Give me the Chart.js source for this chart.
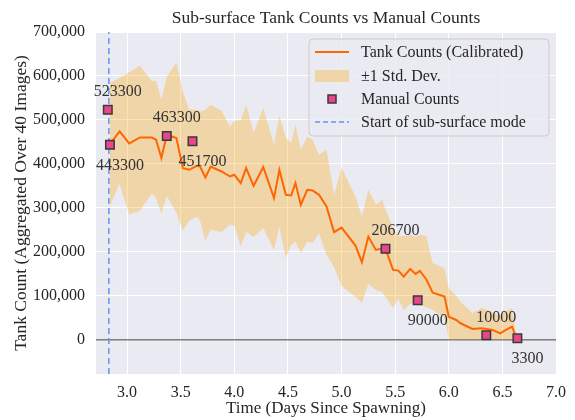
<!DOCTYPE html>
<html>
<head>
<meta charset="utf-8">
<script src="https://cdn.jsdelivr.net/npm/chart.js@4/dist/chart.umd.min.js"></script>
<style>
  html, body { margin: 0; padding: 0; background: #fff; }
  #wrap { width: 575px; height: 420px; }
</style>
</head>
<body>
<div id="wrap"><canvas id="chartTanks" width="575" height="420"></canvas></div>
<script>
// Calibrated tank counts (days since spawning)
const timeDays = [2.84, 2.93, 3.02, 3.12, 3.23, 3.27, 3.32, 3.37, 3.46, 3.52,
  3.58, 3.65, 3.68, 3.73, 3.78, 3.88, 3.96, 4.00, 4.06, 4.11,
  4.18, 4.27, 4.37, 4.42, 4.48, 4.53, 4.57, 4.62, 4.68, 4.73,
  4.79, 4.86, 4.93, 5.00, 5.13, 5.19, 5.25, 5.32, 5.38, 5.41,
  5.48, 5.53, 5.58, 5.64, 5.69, 5.73, 5.79, 5.85, 5.96, 6.00,
  6.07, 6.11, 6.22, 6.31, 6.41, 6.48, 6.52, 6.59, 6.63];
const tankCounts = [445000, 473800, 446500, 460100, 460100, 454900, 413200, 466300, 458800, 390400,
  386600, 395700, 394100, 369000, 394100, 382700, 371300, 375200, 356300, 390400,
  350100, 392700, 322100, 386600, 329600, 328000, 356300, 306800, 341000, 339400,
  329600, 303000, 244700, 255100, 214100, 176300, 234600, 204300, 207300, 207300,
  158800, 157200, 143500, 161100, 149700, 156500, 137600, 107100, 98000, 52400,
  44900, 37400, 24400, 26000, 22100, 14600, 20500, 29600, 4600];
const stdUpper = [584100, 595500, 608200, 623500, 587700, 589300, 546000, 598400, 630300, 564300,
  523300, 523300, 518700, 523300, 534600, 521000, 484500, 498200, 498900, 534600,
  470900, 527100, 443500, 509600, 459500, 448100, 489100, 432100, 462400, 454900,
  420700, 432100, 329600, 391100, 325100, 280200, 341000, 306800, 318200, 295500,
  254400, 236200, 236200, 238500, 233900, 238500, 236200, 174700, 163300, 117800,
  99500, 85900, 60800, 72200, 63100, 54000, 63800, 71500, 6000];
const stdLower = [304600, 354700, 284100, 293900, 331900, 322800, 286300, 327300, 288600, 247600,
  270400, 279500, 270400, 224800, 249900, 245300, 261300, 259000, 211900, 245300,
  233900, 254400, 204300, 256700, 186100, 215700, 222600, 197500, 222600, 220300,
  240800, 192900, 165600, 122300, 97300, 83600, 126900, 113200, 108700, 97300,
  72200, 92700, 67700, 81300, 85900, 79000, 74500, 67700, 49400, 0,
  0, 0, 0, 0, 0, 0, 0, 0, 0];

// Manual counts
const manualDays = [2.82, 2.84, 3.37, 3.61, 5.41, 5.71, 6.35, 6.64];
const manualCounts = [523300, 443300, 463300, 451700, 206700, 90000, 10000, 3300];

const subSurfaceStart = 2.83;
const xTicks = [3.0, 3.5, 4.0, 4.5, 5.0, 5.5, 6.0, 6.5, 7.0];
const yTicks = [0, 100000, 200000, 300000, 400000, 500000, 600000, 700000];
const xMin = 2.71, xMax = 7.0, yMin = -78000, yMax = 700000;

const SERIF = "'Liberation Serif', 'Times New Roman', serif";
const TXT = "#262626";
const ORANGE = "#ff6600";
const BAND = "rgba(255,165,0,0.3)";
const PINK = "#e8458b";
const BLUE = "#6495ed";

const pts = (xs, ys) => xs.map((x, i) => ({ x: x, y: ys[i] }));

const plotBg = {
  id: "plotBg",
  beforeDraw(chart) {
    const { ctx, chartArea: a } = chart;
    ctx.save();
    ctx.fillStyle = "#eaeaf2";
    ctx.fillRect(a.left, a.top, a.right - a.left, a.bottom - a.top);
    ctx.restore();
  }
};

const refLines = {
  id: "refLines",
  beforeDatasetsDraw(chart) {
    const { ctx, chartArea: a, scales } = chart;
    const y0 = scales.y.getPixelForValue(0);
    ctx.save();
    ctx.strokeStyle = "rgba(0,0,0,0.5)";
    ctx.lineWidth = 1.5;
    ctx.beginPath();
    ctx.moveTo(a.left, y0);
    ctx.lineTo(a.right, y0);
    ctx.stroke();
    ctx.restore();
  }
};

const labels = {
  id: "labels",
  afterDatasetsDraw(chart) {
    const { ctx, scales } = chart;
    ctx.save();
    ctx.font = "16px " + SERIF;
    ctx.fillStyle = "#333";
    ctx.textAlign = "center";
    ctx.textBaseline = "middle";
    manualCounts.forEach((v, i) => {
      const px = scales.x.getPixelForValue(manualDays[i]);
      const py = scales.y.getPixelForValue(v);
      const dy = i % 2 === 0 ? -18 : 21;
      ctx.fillText(String(v), px + 10, py + dy);
    });
    ctx.restore();
  }
};

const titleAndLegend = {
  id: "titleAndLegend",
  afterDraw(chart) {
    const { ctx, chartArea: a } = chart;
    ctx.save();
    // title
    ctx.font = "17.5px " + SERIF;
    ctx.fillStyle = TXT;
    ctx.textAlign = "center";
    ctx.textBaseline = "middle";
    ctx.fillText("Sub-surface Tank Counts vs Manual Counts", (a.left + a.right) / 2, 18);

    // legend box
    const bx = 309, by = 39, bw = 240, bh = 97;
    ctx.beginPath();
    ctx.roundRect(bx, by, bw, bh, 4);
    ctx.fillStyle = "rgba(234,234,242,0.8)";
    ctx.fill();
    ctx.strokeStyle = "#cccccc";
    ctx.lineWidth = 1;
    ctx.stroke();

    const rows = [52, 76, 99, 122];
    const sx0 = 315, sx1 = 349, tx = 361;
    // line
    ctx.strokeStyle = ORANGE;
    ctx.lineWidth = 2;
    ctx.beginPath(); ctx.moveTo(sx0, rows[0]); ctx.lineTo(sx1, rows[0]); ctx.stroke();
    // band patch
    ctx.fillStyle = BAND;
    ctx.fillRect(sx0, rows[1] - 6, sx1 - sx0, 12);
    // marker
    ctx.fillStyle = PINK;
    ctx.strokeStyle = "#3a3a3a";
    ctx.lineWidth = 1.5;
    ctx.fillRect(328, rows[2] - 4, 8, 8);
    ctx.strokeRect(328, rows[2] - 4, 8, 8);
    // dashed
    ctx.strokeStyle = BLUE;
    ctx.lineWidth = 1.5;
    ctx.setLineDash([5, 3]);
    ctx.beginPath(); ctx.moveTo(sx0, rows[3]); ctx.lineTo(sx1, rows[3]); ctx.stroke();
    ctx.setLineDash([]);

    ctx.font = "16px " + SERIF;
    ctx.fillStyle = TXT;
    ctx.textAlign = "left";
    ["Tank Counts (Calibrated)", "\u00b11 Std. Dev.", "Manual Counts", "Start of sub-surface mode"]
      .forEach((t, i) => ctx.fillText(t, tx, rows[i] + 1));
    ctx.restore();
  }
};

document.addEventListener("DOMContentLoaded", () => {
  const el = document.getElementById("chartTanks");
  new Chart(el, {
    type: "line",
    data: {
      datasets: [
        {
          label: "+1 Std. Dev.",
          data: pts(timeDays, stdUpper),
          borderWidth: 0,
          pointRadius: 0,
          backgroundColor: BAND,
          fill: "+1",
          order: 4
        },
        {
          label: "-1 Std. Dev.",
          data: pts(timeDays, stdLower),
          borderWidth: 0,
          pointRadius: 0,
          fill: false,
          order: 5
        },
        {
          label: "Start of sub-surface mode",
          data: [{ x: subSurfaceStart, y: yMin }, { x: subSurfaceStart, y: yMax }],
          borderColor: BLUE,
          borderWidth: 1.5,
          borderDash: [6, 4],
          pointRadius: 0,
          fill: false,
          order: 3
        },
        {
          label: "Tank Counts (Calibrated)",
          data: pts(timeDays, tankCounts),
          borderColor: ORANGE,
          borderWidth: 2,
          pointRadius: 0,
          fill: false,
          tension: 0,
          order: 2
        },
        {
          type: "scatter",
          label: "Manual Counts",
          data: pts(manualDays, manualCounts),
          pointStyle: "rect",
          pointRadius: 6,
          pointBackgroundColor: PINK,
          pointBorderColor: "#3a3a3a",
          pointBorderWidth: 1.5,
          showLine: false,
          order: 1
        }
      ]
    },
    options: {
      responsive: false,
      devicePixelRatio: 1,
      animation: false,
      layout: { padding: { top: 32, right: 18, left: 0, bottom: 0 } },
      plugins: {
        legend: { display: false },
        title: { display: false },
        tooltip: { enabled: false }
      },
      scales: {
        x: {
          type: "linear",
          min: xMin,
          max: xMax,
          afterBuildTicks: s => { s.ticks = xTicks.map(v => ({ value: v })); },
          afterFit: s => { s.height = 46; },
          grid: { color: "#ffffff", lineWidth: 1, drawTicks: false },
          border: { display: false },
          ticks: {
            padding: 9,
            color: TXT,
            font: { family: SERIF, size: 16 },
            callback: v => Number(v).toFixed(1)
          },
          title: {
            display: true,
            text: "Time (Days Since Spawning)",
            color: TXT,
            font: { family: SERIF, size: 17 },
            padding: { top: 0, bottom: 1 }
          }
        },
        y: {
          type: "linear",
          min: yMin,
          max: yMax,
          afterBuildTicks: s => { s.ticks = yTicks.map(v => ({ value: v })); },
          afterFit: s => { s.width = 96; },
          grid: { color: "#ffffff", lineWidth: 1, drawTicks: false },
          border: { display: false },
          ticks: {
            padding: 11,
            color: TXT,
            font: { family: SERIF, size: 16 },
            callback: v => Number(v).toLocaleString("en-US")
          },
          title: {
            display: true,
            text: "Tank Count (Aggregated Over 40 Images)",
            color: TXT,
            font: { family: SERIF, size: 17.5 },
            padding: { top: 11, bottom: 0 }
          }
        }
      }
    },
    plugins: [plotBg, refLines, labels, titleAndLegend]
  });
});
</script>
</body>
</html>
